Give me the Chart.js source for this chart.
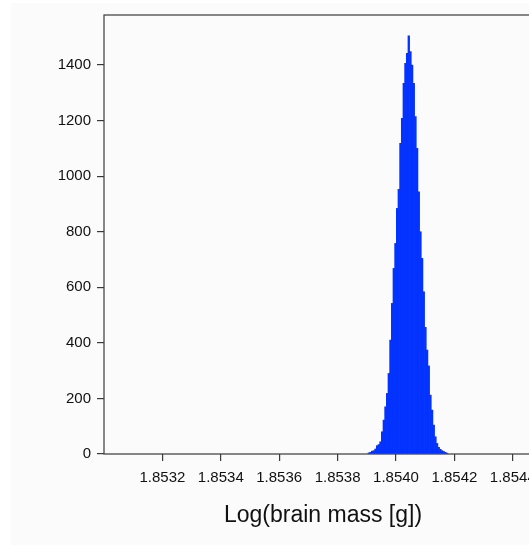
<!DOCTYPE html>
<html>
<head>
<meta charset="utf-8">
<script src="https://cdn.jsdelivr.net/npm/chart.js@4.4.1/dist/chart.umd.min.js"></script>
<style>
  html, body { margin: 0; padding: 0; background: #fff; overflow: hidden; }
  .bg { position: absolute; left: 11px; top: 3px; right: 0; bottom: 0; background: #fbfbfb; }
  #hist { position: absolute; left: 0; top: 0; }
</style>
</head>
<body>
<div class="bg"></div>
<canvas id="hist" width="560" height="545"></canvas>
<script>
// bin centres (log brain mass) and counts
const binCenters = [
  1.8539070, 1.8539127, 1.8539184, 1.8539241, 1.8539298, 1.8539355, 1.8539412, 1.8539469,
  1.8539526, 1.8539583, 1.8539640, 1.8539697, 1.8539754, 1.8539811, 1.8539868, 1.8539925,
  1.8539982, 1.8540039, 1.8540096, 1.8540153, 1.8540210, 1.8540267, 1.8540324, 1.8540381,
  1.8540438, 1.8540495, 1.8540552, 1.8540609, 1.8540666, 1.8540723, 1.8540780, 1.8540837,
  1.8540894, 1.8540951, 1.8541008, 1.8541065, 1.8541122, 1.8541179, 1.8541236, 1.8541293,
  1.8541350, 1.8541407, 1.8541464, 1.8541521, 1.8541578, 1.8541635, 1.8541692, 1.8541749
];
const counts = [
  4, 6, 10, 12, 18, 30, 34, 44,
  80, 122, 170, 218, 290, 410, 542, 668,
  758, 884, 953, 1118, 1208, 1334, 1406, 1442,
  1505, 1448, 1400, 1334, 1214, 1100, 944, 800,
  704, 584, 456, 374, 317, 212, 158, 104,
  62, 38, 24, 17, 12, 9, 6, 3
];
const xTicks = [1.8532, 1.8534, 1.8536, 1.8538, 1.8540, 1.8542, 1.8544];
const yTicks = [0, 200, 400, 600, 800, 1000, 1200, 1400];
const xTitle = 'Log(brain mass [g])';

const fontFam = "'Liberation Sans', Arial, Helvetica, sans-serif";
const axisCol = '#3a3a3a';

// frame round the plot area
const frame = {
  id: 'frame',
  afterDraw(chart) {
    const a = chart.chartArea, c = chart.ctx;
    c.save();
    c.strokeStyle = axisCol;
    c.lineWidth = 1.2;
    c.strokeRect(a.left, a.top, a.right - a.left, a.bottom - a.top);
    c.restore();
  }
};

new Chart(document.getElementById('hist'), {
  type: 'bar',
  data: {
    datasets: [{
      data: binCenters.map((x, i) => ({ x: x, y: counts[i] })),
      backgroundColor: '#0433ff',
      borderWidth: 0,
      barPercentage: 1,
      categoryPercentage: 1
    }]
  },
  options: {
    responsive: false,
    animation: false,
    layout: { padding: { top: 15, left: 0, right: 18, bottom: 0 } },
    plugins: { legend: { display: false }, tooltip: { enabled: false } },
    scales: {
      x: {
        type: 'linear',
        min: 1.8530,
        max: 1.8545,
        offset: false,
        border: { display: false },
        grid: { offset: false, drawOnChartArea: false, drawTicks: true, tickLength: 7, color: axisCol, lineWidth: 1.2 },
        ticks: {
          padding: 8, color: '#111', maxRotation: 0, autoSkip: false,
          font: { family: fontFam, size: 15 },
          callback: v => v.toFixed(4)
        },
        afterBuildTicks: s => { s.ticks = xTicks.map(v => ({ value: v })); },
        afterFit: s => { s.height = 91; },
        title: {
          display: true, text: xTitle, color: '#111',
          font: { family: fontFam, size: 23 },
          padding: { top: 0, bottom: 16 }
        }
      },
      y: {
        min: 0,
        max: 1580,
        border: { display: false },
        grid: { drawOnChartArea: false, drawTicks: true, tickLength: 7, color: axisCol, lineWidth: 1.2 },
        ticks: {
          padding: 6, color: '#111',
          font: { family: fontFam, size: 15 },
          callback: v => String(v)
        },
        afterBuildTicks: s => { s.ticks = yTicks.map(v => ({ value: v })); },
        afterFit: s => { s.width = 104; }
      }
    }
  },
  plugins: [frame]
});
</script>
</body>
</html>
